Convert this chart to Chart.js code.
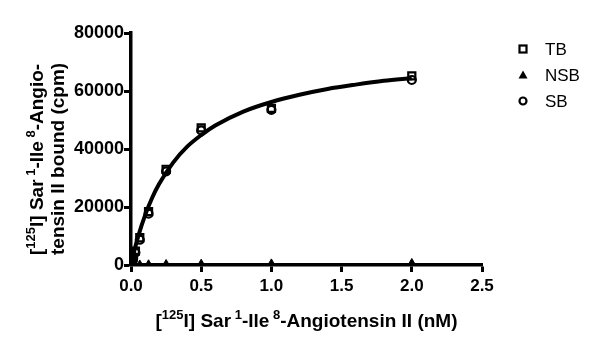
<!DOCTYPE html>
<html><head><meta charset="utf-8">
<script src="https://cdn.jsdelivr.net/npm/chart.js@4/dist/chart.umd.min.js"></script>
<style>html,body{margin:0;padding:0;background:#fff}#w{width:600px;height:360px}</style>
</head><body><div id="w"><canvas id="c" width="600" height="360"></canvas></div>
<script>
const conc = [0.0078, 0.0156, 0.03125, 0.0625, 0.125, 0.25, 0.5, 1.0, 2.0];
const tb   = [1200, 2600, 4800, 9400, 18400, 33000, 47300, 54000, 65200];
const nsb  = [50, 80, 120, 180, 250, 350, 450, 550, 700];
const sb   = [1000, 2300, 4300, 8700, 17700, 32300, 46400, 53500, 63800];
const curveX = [0, 0.025, 0.05, 0.1, 0.15, 0.2, 0.3, 0.4, 0.5, 0.6, 0.8, 1.0, 1.2, 1.4, 1.6, 1.8, 2.0];
const curveY = [0, 5200, 9700, 17100, 23100, 27900, 35300, 40800, 44800, 48100, 52900, 56200, 58700, 60700, 62200, 63500, 64400];
const seriesNames = ['TB', 'NSB', 'SB'];
const xTitle = [['[',0],['125',1],['I] Sar',0],[' 1',1],['-Ile',0],[' 8',1],['-Angiotensin II (nM)',0]];
const yTitle1 = [['[',0],['125',1],['I] Sar',0],[' 1',1],['-Ile',0],[' 8',1],['-Angio-',0]];
const yTitle2 = [['tensin II bound (cpm)',0]];

const pts = (xs, ys) => xs.map((x, i) => ({x, y: ys[i]}));
const FONT = '"Liberation Sans", Arial, sans-serif';

function drawRich(ctx, segs, x0, cy, size, align) {
  const big = 'bold ' + size + 'px ' + FONT, small = 'bold ' + Math.round(size*0.7) + 'px ' + FONT;
  let w = 0;
  segs.forEach(([t, s]) => { ctx.font = s ? small : big; w += ctx.measureText(t).width; });
  let x = align === 'start' ? x0 : x0 - w/2;
  ctx.textBaseline = 'alphabetic'; ctx.textAlign = 'left'; ctx.fillStyle = '#000';
  segs.forEach(([t, s]) => {
    ctx.font = s ? small : big;
    ctx.fillText(t, x, s ? cy - size*0.42 : cy);
    x += ctx.measureText(t).width;
  });
}

const deco = {
  id: 'deco',
  afterDraw(chart) {
    const ctx = chart.ctx, a = chart.chartArea;
    ctx.save();
    drawRich(ctx, xTitle, (a.left + a.right)/2, 327, 19);
    ctx.translate(0, 255);
    ctx.rotate(-Math.PI/2);
    drawRich(ctx, yTitle1, 0, 43, 19, 'start');
    drawRich(ctx, yTitle2, 0, 64, 19, 'start');
    ctx.restore();
    // legend
    ctx.save();
    const ys = [49, 75, 101];
    chart.data.datasets.slice(0, 3).forEach((ds, i) => {
      const x = 523, y = ys[i];
      ctx.strokeStyle = '#000'; ctx.fillStyle = '#000'; ctx.lineWidth = 2.2;
      if (ds.pointStyle === 'rect') { ctx.strokeRect(x-3.5, y-3.5, 7, 7); }
      else if (ds.pointStyle === 'triangle') { ctx.beginPath(); ctx.moveTo(x, y-4.5); ctx.lineTo(x+4.5, y+3.5); ctx.lineTo(x-4.5, y+3.5); ctx.closePath(); ctx.fill(); }
      else { ctx.beginPath(); ctx.arc(x, y, 3.5, 0, Math.PI*2); ctx.stroke(); }
      ctx.font = '17px ' + FONT; ctx.textBaseline = 'middle'; ctx.textAlign = 'left';
      ctx.fillText(ds.label, 545, y + 1);
    });
    ctx.restore();
  }
};

new Chart(document.getElementById('c'), {
  type: 'scatter',
  data: { datasets: [
    {label: seriesNames[0], data: pts(conc, tb), pointStyle: 'rect', pointRadius: 5, borderColor: '#000', backgroundColor: 'rgba(0,0,0,0)', pointBorderWidth: 2.2, showLine: false},
    {label: seriesNames[1], data: pts(conc, nsb), pointStyle: 'triangle', pointRadius: 4.5, borderColor: '#000', backgroundColor: '#000', pointBorderWidth: 1, showLine: false},
    {label: seriesNames[2], data: pts(conc, sb), pointStyle: 'circle', pointRadius: 4, borderColor: '#000', backgroundColor: 'rgba(0,0,0,0)', pointBorderWidth: 2.2, showLine: false},
    {label: 'fit', data: pts(curveX, curveY), showLine: true, pointRadius: 0, borderColor: '#000', borderWidth: 4, cubicInterpolationMode: 'monotone', fill: false}
  ]},
  options: {
    responsive: false, animation: false, devicePixelRatio: 1,
    layout: {padding: {left: 0, right: 118, top: 33, bottom: 0}},
    plugins: {legend: {display: false}, tooltip: {enabled: false}},
    scales: {
      x: {type: 'linear', min: 0, max: 2.5,
        ticks: {stepSize: 0.5, color: '#000', font: {family: FONT, size: 17, weight: 'bold'}, padding: 4, callback: v => v.toFixed(1)},
        grid: {drawOnChartArea: false, drawTicks: true, tickLength: 7, tickWidth: 3, color: '#000'},
        border: {width: 3.5, color: '#000'},
        afterFit: s => { s.height = 95; }
      },
      y: {min: 0, max: 80000,
        ticks: {stepSize: 20000, color: '#000', font: {family: FONT, size: 18, weight: 'bold'}, padding: 0, callback: v => String(v)},
        grid: {drawOnChartArea: false, drawTicks: true, tickLength: 7, tickWidth: 3, color: '#000'},
        border: {width: 3.5, color: '#000'},
        afterFit: s => { s.width = 131; }
      }
    }
  },
  plugins: [deco]
});
</script></body></html>
